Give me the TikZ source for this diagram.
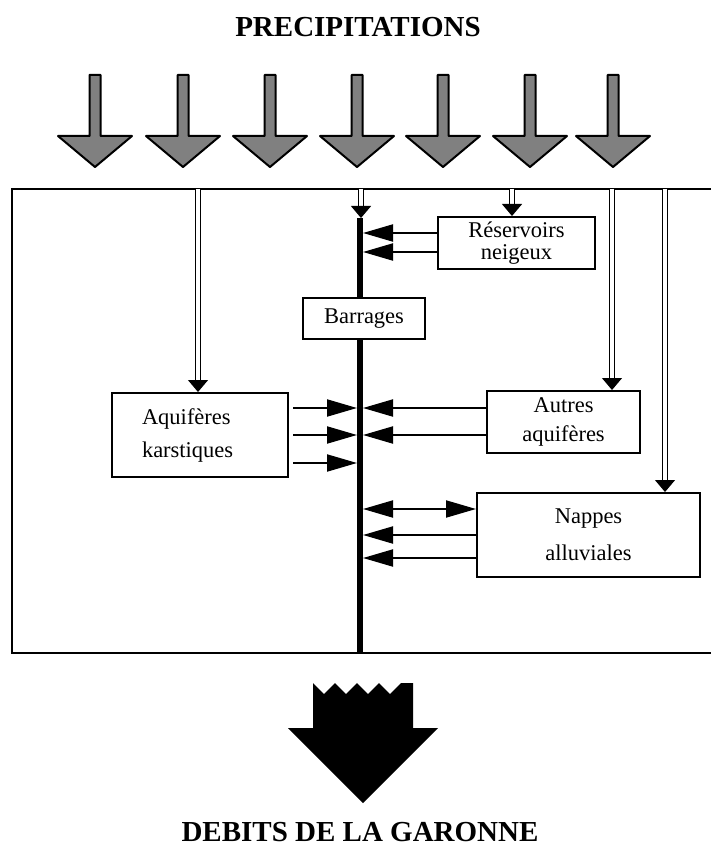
\documentclass[tikz,border=0pt]{standalone}
\usepackage{fontspec}
\setmainfont{Liberation Serif}
\usetikzlibrary{arrows.meta}
\tikzset{
  box/.style={draw=black, line width=1pt, fill=white, inner sep=0pt, align=center},
  flow/.style={line width=1pt},
  feed/.style={double, double distance=2.2pt, line width=0.6pt, -{Triangle[length=6pt,width=10pt]}},
  rain/.style={draw=black, line width=1pt, fill=black!50, line join=round},
  title/.style={font=\bfseries\fontsize{14.5}{17}\selectfont},
  >={Triangle[length=15pt,width=8.5pt]}
}

\begin{document}
\begin{tikzpicture}[x=0.5pt, y=-0.5pt]
    \useasboundingbox (0,0) rectangle (711,850);

    \node[title] (prec) at (358,27) {PRECIPITATIONS};
    % pluie
    \foreach \x in {95,183,270,357,443,530,613}
        \draw[rain] (\x-5.5,75) -- (\x+5.5,75) -- (\x+5.5,136) -- (\x+37,136) -- (\x,167)
            -- (\x-37,136) -- (\x-5.5,136) -- cycle;

    % cadre
    \draw[line width=1pt] (711,189) -- (12,189) -- (12,653) -- (711,653);

    % axe central
    \coordinate (axtop) at (360,218);
    \coordinate (axbot) at (360,653);
    \coordinate (axL) at (357,0);
    \coordinate (axR) at (363,0);
    \draw[line width=3pt] (axtop) -- (axbot);

    \node[box, minimum width=78.5pt, minimum height=26pt, font=\fontsize{11.25}{11}\selectfont] (res) at (516.5,243) {R\'eservoirs\\neigeux};
    \node[box, minimum width=61pt, minimum height=20.5pt, font=\fontsize{11.25}{13}\selectfont] (barr) at (364,318.5) {Barrages};
    \node[box, align=left, text width=58pt, inner xsep=15pt, minimum height=42pt, font=\fontsize{11.25}{16.5}\selectfont] (karst) at (200,435) {Aquif\`eres\\karstiques};
    \node[box, minimum width=76.5pt, minimum height=31pt, font=\fontsize{11.25}{14.5}\selectfont] (autres) at (563.5,422) {Autres\\aquif\`eres};
    \node[box, minimum width=111.5pt, minimum height=42pt, font=\fontsize{11.25}{18.5}\selectfont] (nappes) at (588.5,535) {Nappes\\alluviales};

    % apports directs
    \coordinate (f1) at (198,189);
    \coordinate (f2) at (361,189);
    \coordinate (f3) at (512,189);
    \coordinate (f4) at (612,189);
    \coordinate (f5) at (665,189);
    \draw[feed] (f1) -- (f1 |- karst.north);
    \draw[feed] (f2) -- (f2 |- axtop);
    \draw[feed] (f3) -- (f3 |- res.north);
    \draw[feed] (f4) -- (f4 |- autres.north);
    \draw[feed] (f5) -- (f5 |- nappes.north);

    % echanges avec l'axe
    \draw[flow, ->] (res.west |- 0,233) -- (axR |- 0,233);
    \draw[flow, ->] (res.west |- 0,252) -- (axR |- 0,252);
    \foreach \y in {408,435,463}
        \draw[flow, ->, shorten <=2pt] (karst.east |- 0,\y) -- (axL |- 0,\y);
    \foreach \y in {408,435}
        \draw[flow, ->] (autres.west |- 0,\y) -- (axR |- 0,\y);
    \draw[flow, <->] (axR |- 0,509) -- (nappes.west |- 0,509);
    \foreach \y in {535,558}
        \draw[flow, ->] (nappes.west |- 0,\y) -- (axR |- 0,\y);

    % debit
    \fill[black] (313,683) -- (324,694) -- (335,683) -- (346,694) -- (357,683) -- (368,694)
        -- (379,683) -- (390,694) -- (401,683) -- (413,683) -- (413,728) -- (438,728)
        -- (363,803) -- (288,728) -- (313,728) -- cycle;
    \node[title] (deb) at (360,832) {DEBITS DE LA GARONNE};
\end{tikzpicture}
\end{document}
